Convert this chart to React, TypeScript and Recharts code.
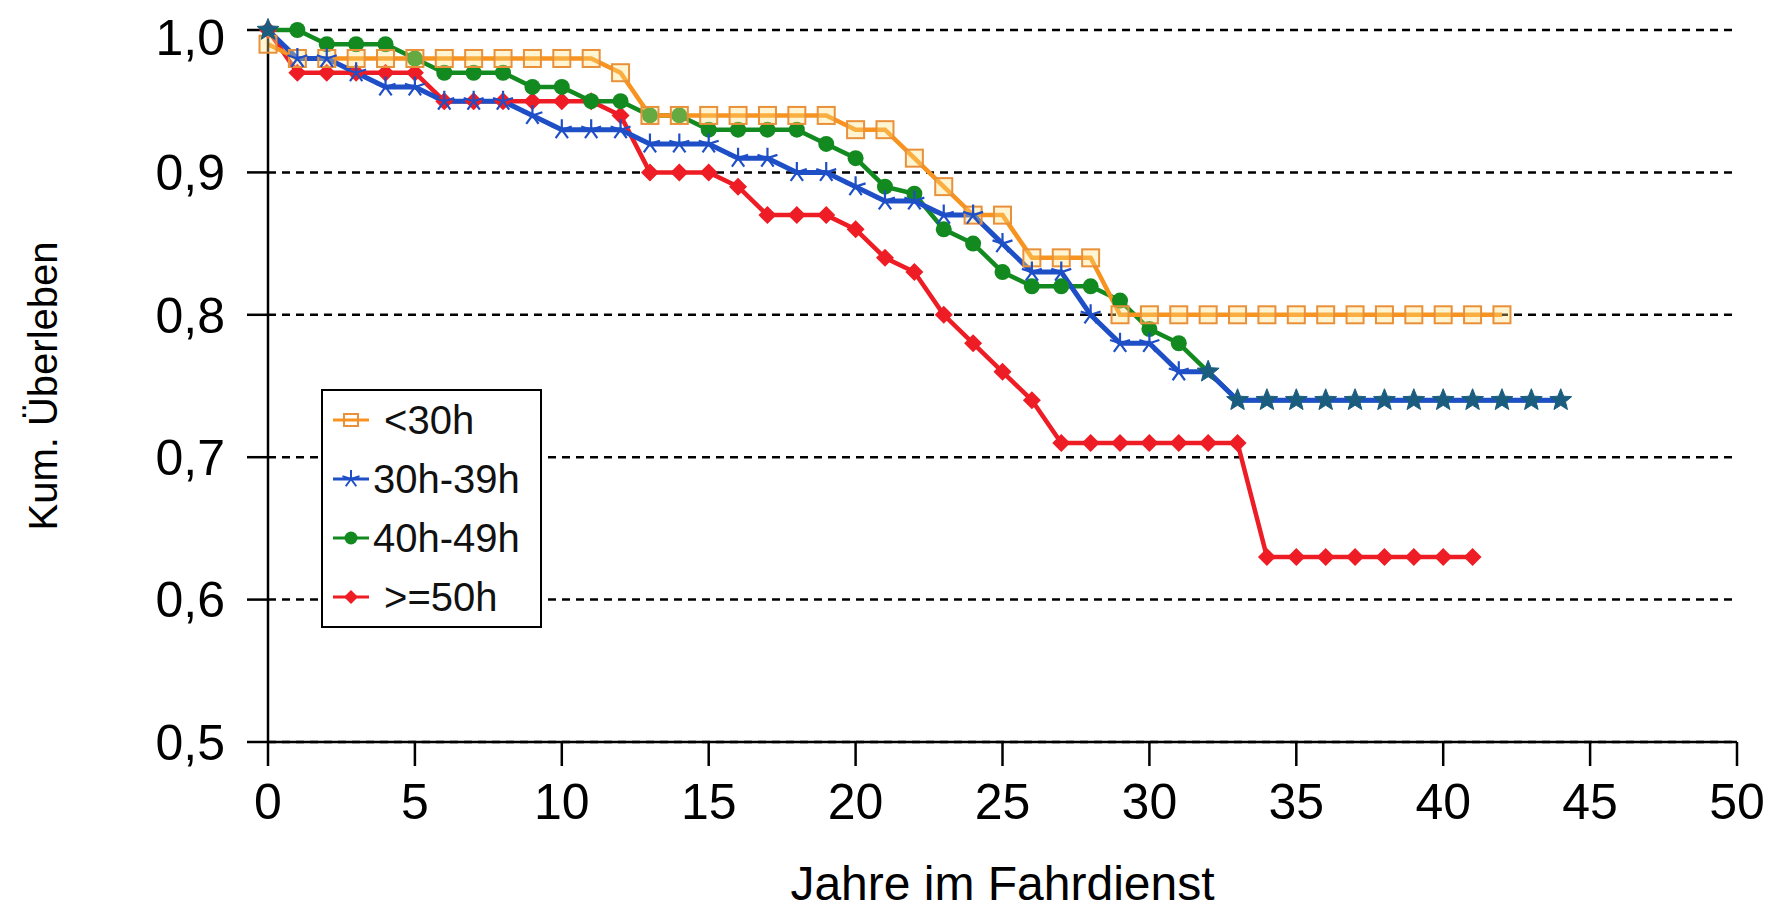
import { LineChart, Line, XAxis, YAxis, CartesianGrid, Legend } from 'recharts';

// Kaplan-Meier survival by weekly hours, one value per year of service
const years = [
  0, 1, 2, 3, 4, 5, 6, 7, 8, 9, 10, 11, 12, 13, 14, 15, 16, 17, 18, 19, 20, 21, 22,
  23, 24, 25, 26, 27, 28, 29, 30, 31, 32, 33, 34, 35, 36, 37, 38, 39, 40, 41, 42, 43, 44,
];

const under30 = [
  0.99, 0.98, 0.98, 0.98, 0.98, 0.98, 0.98, 0.98, 0.98, 0.98, 0.98, 0.98, 0.97, 0.94, 0.94,
  0.94, 0.94, 0.94, 0.94, 0.94, 0.93, 0.93, 0.91, 0.89, 0.87, 0.87, 0.84, 0.84, 0.84, 0.8,
  0.8, 0.8, 0.8, 0.8, 0.8, 0.8, 0.8, 0.8, 0.8, 0.8, 0.8, 0.8, 0.8,
];

const h30to39 = [
  1.0, 0.98, 0.98, 0.97, 0.96, 0.96, 0.95, 0.95, 0.95, 0.94, 0.93, 0.93, 0.93, 0.92, 0.92,
  0.92, 0.91, 0.91, 0.9, 0.9, 0.89, 0.88, 0.88, 0.87, 0.87, 0.85, 0.83, 0.83, 0.8, 0.78,
  0.78, 0.76, 0.76, 0.74, 0.74, 0.74, 0.74, 0.74, 0.74, 0.74, 0.74, 0.74, 0.74, 0.74, 0.74,
];

const h40to49 = [
  1.0, 1.0, 0.99, 0.99, 0.99, 0.98, 0.97, 0.97, 0.97, 0.96, 0.96, 0.95, 0.95, 0.94, 0.94,
  0.93, 0.93, 0.93, 0.93, 0.92, 0.91, 0.89, 0.885, 0.86, 0.85, 0.83, 0.82, 0.82, 0.82, 0.81,
  0.79, 0.78, 0.76, 0.74, 0.74, 0.74, 0.74, 0.74, 0.74, 0.74, 0.74, 0.74, 0.74, 0.74, 0.74,
];

const over50 = [
  1.0, 0.97, 0.97, 0.97, 0.97, 0.97, 0.95, 0.95, 0.95, 0.95, 0.95, 0.95, 0.94, 0.9, 0.9,
  0.9, 0.89, 0.87, 0.87, 0.87, 0.86, 0.84, 0.83, 0.8, 0.78, 0.76, 0.74, 0.71, 0.71, 0.71,
  0.71, 0.71, 0.71, 0.71, 0.63, 0.63, 0.63, 0.63, 0.63, 0.63, 0.63, 0.63,
];

const xTicks = [0, 5, 10, 15, 20, 25, 30, 35, 40, 45, 50];
const yTicks = [0.5, 0.6, 0.7, 0.8, 0.9, 1.0];

const seriesLabels = [' <30h', '30h-39h', '40h-49h', ' >=50h'];

const data = years.map((year, i) => ({
  year,
  u30: under30[i] ?? null,
  h30: h30to39[i] ?? null,
  h40: h40to49[i] ?? null,
  o50: over50[i] ?? null,
}));

const FONT = '"Liberation Sans", Arial, sans-serif';
const ORANGE = '#F7931E';
const BLUE = '#1F4FC6';
const GREEN = '#138A1F';
const RED = '#EE1C24';
const TEAL = '#1A5D7E';

const asteriskPath = (cx: number, cy: number, r: number) =>
  [0, 1, 2, 3, 4]
    .map((k) => {
      const a = ((-90 + 72 * k) * Math.PI) / 180;
      return `M${cx},${cy}L${cx + r * Math.cos(a)},${cy + r * Math.sin(a)}`;
    })
    .join('');

const filledStarPath = (cx: number, cy: number, ro: number, ri: number) => {
  let d = '';
  for (let k = 0; k < 10; k++) {
    const r = k % 2 === 0 ? ro : ri;
    const a = ((-90 + 36 * k) * Math.PI) / 180;
    d += `${k === 0 ? 'M' : 'L'}${cx + r * Math.cos(a)},${cy + r * Math.sin(a)}`;
  }
  return d + 'Z';
};

const SquareDot = (props: any) => {
  const { cx, cy, index } = props;
  if (cx == null || cy == null) return <g key={`sq-${index}`} />;
  return (
    <rect
      key={`sq-${index}`}
      x={cx - 8.5}
      y={cy - 8.5}
      width={17}
      height={17}
      fill="rgba(255,226,130,0.35)"
      stroke="#E8903A"
      strokeWidth={2}
    />
  );
};

// where the 40h-49h curve sits on the same value the star is drawn filled
const StarDot = (props: any) => {
  const { cx, cy, index, payload } = props;
  if (cx == null || cy == null) return <g key={`st-${index}`} />;
  if (payload.h40 != null && payload.h40 === payload.h30) {
    return <path key={`st-${index}`} d={filledStarPath(cx, cy, 11.5, 5)} fill={TEAL} stroke={TEAL} strokeWidth={1} />;
  }
  return <path key={`st-${index}`} d={asteriskPath(cx, cy, 10.5)} stroke={BLUE} strokeWidth={2.2} fill="none" />;
};

const CircleDot = (props: any) => {
  const { cx, cy, index, payload } = props;
  if (cx == null || cy == null || payload.h30 === payload.h40) return <g key={`ci-${index}`} />;
  return <circle key={`ci-${index}`} cx={cx} cy={cy} r={8} fill={GREEN} />;
};

const DiamondDot = (props: any) => {
  const { cx, cy, index } = props;
  if (cx == null || cy == null) return <g key={`di-${index}`} />;
  return <path key={`di-${index}`} d={`M${cx},${cy - 9}L${cx + 9},${cy}L${cx},${cy + 9}L${cx - 9},${cy}Z`} fill={RED} />;
};

const legendMarkers = [
  (
    <g>
      <line x1={0} y1={12} x2={36} y2={12} stroke={ORANGE} strokeWidth={3} />
      <rect x={11} y={6} width={14} height={12} fill="none" stroke="#E8903A" strokeWidth={2} />
    </g>
  ),
  (
    <g>
      <line x1={0} y1={12} x2={36} y2={12} stroke={BLUE} strokeWidth={3} />
      <path d={asteriskPath(18, 12, 9)} stroke={BLUE} strokeWidth={2} />
    </g>
  ),
  (
    <g>
      <line x1={0} y1={12} x2={36} y2={12} stroke={GREEN} strokeWidth={3} />
      <circle cx={18} cy={12} r={6.5} fill={GREEN} />
    </g>
  ),
  (
    <g>
      <line x1={0} y1={12} x2={36} y2={12} stroke={RED} strokeWidth={3} />
      <path d="M18,5L25,12L18,19L11,12Z" fill={RED} />
    </g>
  ),
];

const renderLegend = () => (
  <div
    style={{
      width: 221,
      height: 239,
      boxSizing: 'border-box',
      border: '2px solid #000',
      background: '#fff',
      fontFamily: FONT,
      fontSize: 40,
      color: '#111',
    }}
  >
    {seriesLabels.map((label, i) => (
      <div key={label} style={{ height: 58.75, display: 'flex', alignItems: 'center' }}>
        <svg width={36} height={24} style={{ marginLeft: 10, flex: 'none' }}>
          {legendMarkers[i]}
        </svg>
        <span style={{ marginLeft: 4, whiteSpace: 'pre', lineHeight: 1 }}>{label}</span>
      </div>
    ))}
  </div>
);

const XTitle = (props: any) => {
  const { x, y, width } = props.viewBox;
  return (
    <text x={x + width / 2} y={y + 158} textAnchor="middle" fontFamily={FONT} fontSize={48} fill="#000">
      Jahre im Fahrdienst
    </text>
  );
};

const YTitle = (props: any) => {
  const { x, y, height } = props.viewBox;
  const cx = x - 45;
  const cy = y + height / 2;
  return (
    <text
      x={cx}
      y={cy}
      dy="0.35em"
      textAnchor="middle"
      transform={`rotate(-90 ${cx} ${cy})`}
      fontFamily={FONT}
      fontSize={40}
      fill="#000"
    >
      Kum. Überleben
    </text>
  );
};

const tickStyle = { fontFamily: FONT, fontSize: 50, fill: '#000' };

export default function App() {
  return (
    <LineChart
      width={1770}
      height={906}
      data={data}
      margin={{ top: 22, right: 41, bottom: 102, left: 80 }}
      style={{ background: '#fff' }}
    >
      <CartesianGrid horizontal vertical={false} stroke="#000" strokeWidth={2.5} strokeDasharray="8 6" />
      <XAxis
        type="number"
        dataKey="year"
        domain={[0, 50]}
        ticks={xTicks}
        height={70}
        tick={tickStyle}
        tickSize={24}
        tickMargin={17}
        axisLine={{ stroke: '#000', strokeWidth: 2.5 }}
        tickLine={{ stroke: '#000', strokeWidth: 2.5 }}
        label={{ content: XTitle }}
      />
      <YAxis
        type="number"
        domain={[0.5, 1]}
        ticks={yTicks}
        width={180}
        tick={tickStyle}
        tickSize={21}
        tickMargin={22}
        tickFormatter={(v: number) => v.toFixed(1).replace('.', ',')}
        axisLine={{ stroke: '#000', strokeWidth: 2.5 }}
        tickLine={{ stroke: '#000', strokeWidth: 2.5 }}
        label={{ content: YTitle }}
      />
      <Legend
        layout="horizontal"
        verticalAlign="middle"
        align="center"
        content={renderLegend}
        wrapperStyle={{ left: 313, top: 381, width: 221, height: 239 }}
      />
      <Line
        type="linear"
        dataKey="o50"
        name=">=50h"
        stroke={RED}
        strokeWidth={4.5}
        dot={DiamondDot}
        activeDot={false}
        isAnimationActive={false}
      />
      <Line
        type="linear"
        dataKey="h40"
        name="40h-49h"
        stroke={GREEN}
        strokeWidth={4.5}
        dot={CircleDot}
        activeDot={false}
        isAnimationActive={false}
      />
      <Line
        type="linear"
        dataKey="u30"
        name="<30h"
        stroke={ORANGE}
        strokeWidth={4.5}
        dot={SquareDot}
        activeDot={false}
        isAnimationActive={false}
      />
      <Line
        type="linear"
        dataKey="h30"
        name="30h-39h"
        stroke={BLUE}
        strokeWidth={5}
        dot={StarDot}
        activeDot={false}
        isAnimationActive={false}
      />
    </LineChart>
  );
}
